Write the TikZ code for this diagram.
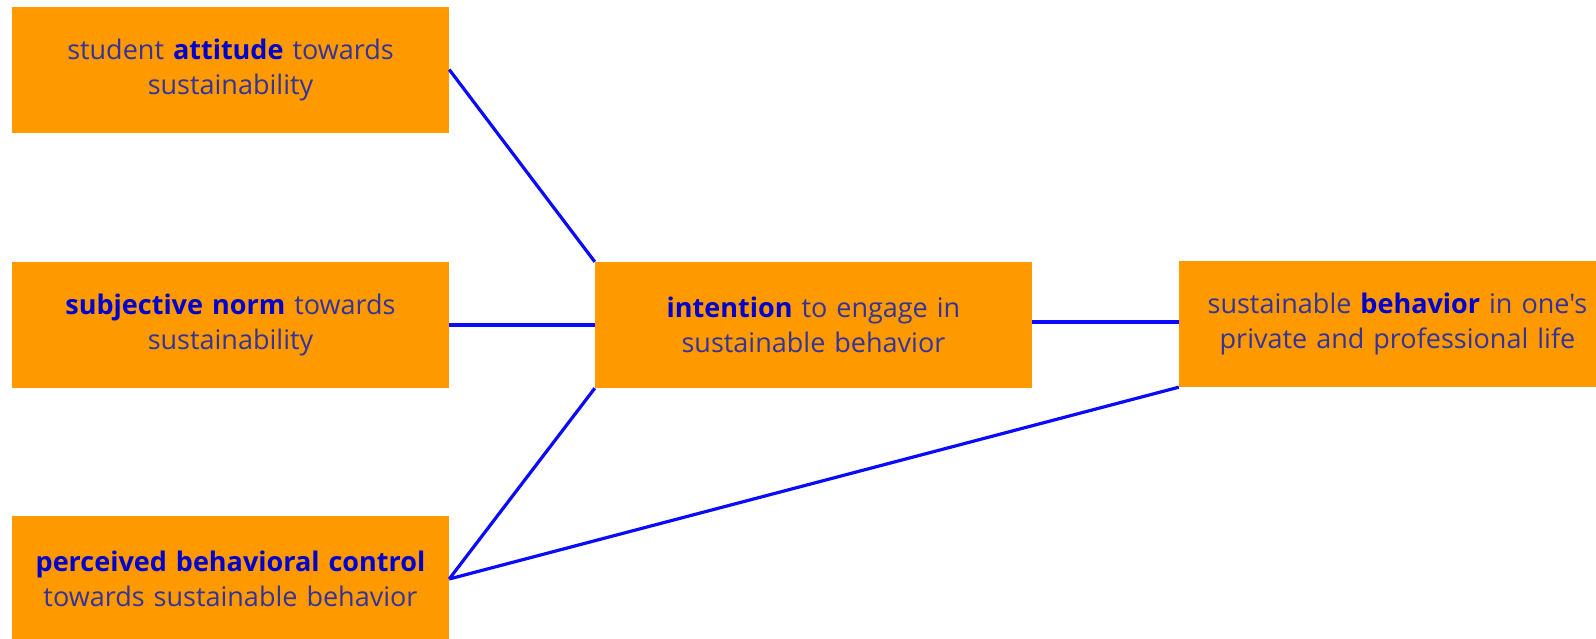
\documentclass[tikz,border=0pt]{standalone}
\usepackage{fontspec}
\setmainfont{Open Sans}[Ligatures=TeXOff]
\definecolor{boxorange}{RGB}{255,153,0}
\definecolor{txtblue}{RGB}{51,51,153}
\definecolor{boldblue}{RGB}{0,0,204}
\definecolor{linkblue}{RGB}{10,10,255}
\newcommand{\kw}[1]{\textbf{\textcolor{boldblue}{#1}}}
\begin{document}
\begin{tikzpicture}[x=1pt,y=-1pt,
  boxnode/.style={fill=boxorange, draw=none, minimum width=437pt, minimum height=126pt,
    inner sep=0pt, text width=430pt, align=center, text=txtblue,
    font=\fontsize{27pt}{35pt}\selectfont},
  link/.style={draw=linkblue, line width=3.2pt}]
\useasboundingbox (0,0) rectangle (1596,638);
\node[boxnode] (A) at (230.5,69.5) {student \kw{attitude} towards\\sustainability};
\node[boxnode] (B) at (230.5,325) {\kw{subjective norm} towards\\sustainability};
\node[boxnode] (C) at (230.5,579) {\kw{perceived behavioral control}\\towards sustainable behavior};
\node[boxnode] (D) at (813.5,325) {\kw{intention} to engage in\\sustainable behavior};
\node[boxnode] (E) at (1397.5,324) {sustainable \kw{behavior} in one's\\private and professional life};
\draw[link] (A.east) -- (D.north west);
\draw[link] (B.east) -- (D.west);
\draw[link] (C.east) -- (D.south west);
\draw[link] ([yshift=3pt]D.east) -- ([yshift=2pt]E.west);
\draw[link] (C.east) -- (E.south west);
\end{tikzpicture}
\end{document}
